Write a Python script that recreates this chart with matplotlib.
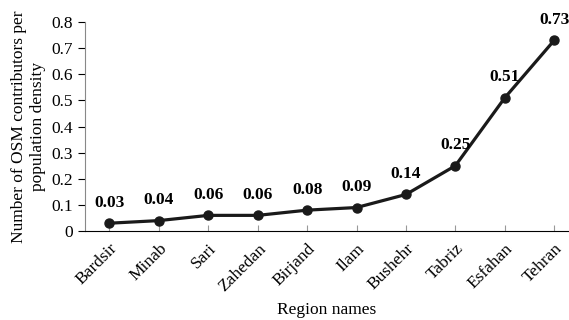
import matplotlib.pyplot as plt

# Donnees
regions = ['Bardsir', 'Minab', 'Sari', 'Zahedan', 'Birjand', 'Ilam',
           'Bushehr', 'Tabriz', 'Esfahan', 'Tehran']
valeurs = [0.03, 0.04, 0.06, 0.06, 0.08, 0.09, 0.14, 0.25, 0.51, 0.73]
yticks = [0, 0.1, 0.2, 0.3, 0.4, 0.5, 0.6, 0.7, 0.8]

plt.rcParams['font.family'] = ['Liberation Serif', 'DejaVu Serif']

fig = plt.figure(figsize=(5.69, 3.2), dpi=100)
ax = fig.add_axes([0.149, 0.278, 0.851, 0.653])

x = list(range(len(regions)))
ax.plot(x, valeurs, color='#1a1a1a', linewidth=2.3, marker='o', markersize=6.5)

for xi, v in zip(x, valeurs):
    ax.annotate(f'{v:.2f}', (xi, v), xytext=(0, 9), textcoords='offset points',
                ha='center', va='bottom', fontsize=12.5, fontweight='bold')

ax.set_xlim(-0.5, 9.3)
ax.set_ylim(0, 0.8)
ax.set_yticks(yticks)
ax.set_yticklabels([f'{t:g}' for t in yticks], fontsize=12.5)
ax.set_xticks(x)
ax.set_xticklabels(regions, rotation=45, ha='right', rotation_mode='anchor', fontsize=12.5)
ax.tick_params(axis='x', direction='in', length=4, color='#999999', pad=7)
ax.tick_params(axis='y', direction='out', length=5)

ax.spines['top'].set_visible(False)
ax.spines['right'].set_visible(False)
ax.spines['left'].set_color('#888888')

ax.set_xlabel('Region names', fontsize=12.5, labelpad=5)
ax.set_ylabel('Number of OSM contributors per\npopulation density', fontsize=12.5)

plt.savefig('out.png', dpi=100)
